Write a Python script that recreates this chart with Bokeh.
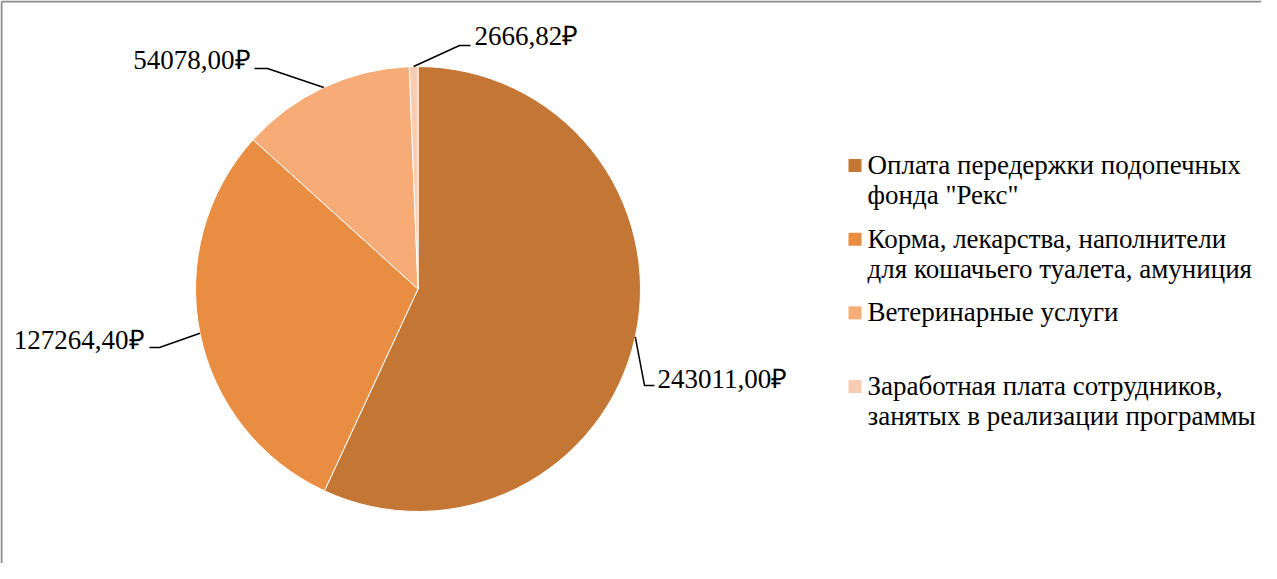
import math
from bokeh.plotting import figure
from bokeh.models import ColumnDataSource, Range1d
from bokeh.core.properties import value
from bokeh.embed import file_html
from bokeh.resources import INLINE

# ---- data ----
categories = [
    'Оплата передержки подопечных\nфонда "Рекс"',
    'Корма, лекарства, наполнители\nдля кошачьего туалета, амуниция',
    'Ветеринарные услуги',
    'Заработная плата сотрудников,\nзанятых в реализации программы',
]
values = [243011.00, 127264.40, 54078.00, 2666.82]
colors = ["#C47635", "#E98D43", "#F7AC78", "#F9CBB2"]

FONT = "Liberation Serif"
FS = "27px"
TY = 9.5  # baseline correction (px)

W, H = 1261, 563
p = figure(width=W, height=H, x_range=Range1d(8, 8 + W), y_range=Range1d(-(8 + H), -8),
           output_backend="svg", toolbar_location=None,
           x_axis_location=None, y_axis_location=None,
           min_border=0, min_border_left=0, min_border_right=0,
           min_border_top=0, min_border_bottom=0)
p.grid.visible = False
p.outline_line_color = None
p.background_fill_color = "white"
p.border_fill_color = "white"

# chart-area frame (only top and left edges are visible in the crop)
p.segment(x0=[9, 9], y0=[-9, -9], x1=[1300, 9], y1=[-9, -600], line_color="#8C8C8C", line_width=2)

# ---- pie ----
cx, cy, R = 425.5, -296.5, 222.5
total = sum(values)
starts, ends, mids = [], [], []
acc = 0.0
for v in values:
    a0 = math.pi / 2 - acc / total * 2 * math.pi
    acc += v
    a1 = math.pi / 2 - acc / total * 2 * math.pi
    starts.append(a0)
    ends.append(a1)
    mids.append((a0 + a1) / 2)

src = ColumnDataSource(dict(x=[cx] * len(values), y=[cy] * len(values),
                            start=starts, end=ends, color=colors))
p.wedge(x="x", y="y", radius=R, start_angle="start", end_angle="end", direction="clock",
        fill_color="color", line_color="white", line_width=1, source=src)

# ---- data labels with leader lines ----
labels = [f"{v:.2f}".replace(".", ",") + "₽" for v in values]
# layout: elbow point, line end, text anchor, alignment
layout = [
    ((652, 393), (662, 393), (665, 396), "left"),
    ((167, 355), (157, 355), (152, 357), "right"),
    ((275, 76), (262, 76), (258, 77), "right"),
    ((467, 53), (478, 53), (482, 53), "left"),
]
xs, ys = [], []
for m, (el, en, _, _) in zip(mids, layout):
    ex, ey = cx + R * math.cos(m), cy + R * math.sin(m)
    xs.append([ex, el[0], en[0]])
    ys.append([ey, -el[1], -en[1]])
p.multi_line(xs=xs, ys=ys, line_color="black", line_width=1.5)

for lab, (_, _, t, al) in zip(labels, layout):
    p.text(x=[t[0]], y=[-(t[1] - TY)], text=[lab], text_font=value(FONT), text_font_size=FS,
           text_align=al, text_baseline="alphabetic", text_color="black")

# ---- legend ----
leg_x, leg_y0, item_step, line_step = 875, 182, 73.7, 30
sq_x, sq_size = 862.5, 13
for i, (cat, col) in enumerate(zip(categories, colors)):
    base = leg_y0 + i * item_step
    p.rect(x=[sq_x], y=[-(base - 9)], width=sq_size, height=sq_size,
           fill_color=col, line_color=None)
    for j, line in enumerate(cat.split("\n")):
        p.text(x=[leg_x], y=[-(base + j * line_step - TY)], text=[line], text_font=value(FONT),
               text_font_size=FS, text_align="left", text_baseline="alphabetic",
               text_color="black")

open("out.html", "w").write(file_html(p, INLINE))
